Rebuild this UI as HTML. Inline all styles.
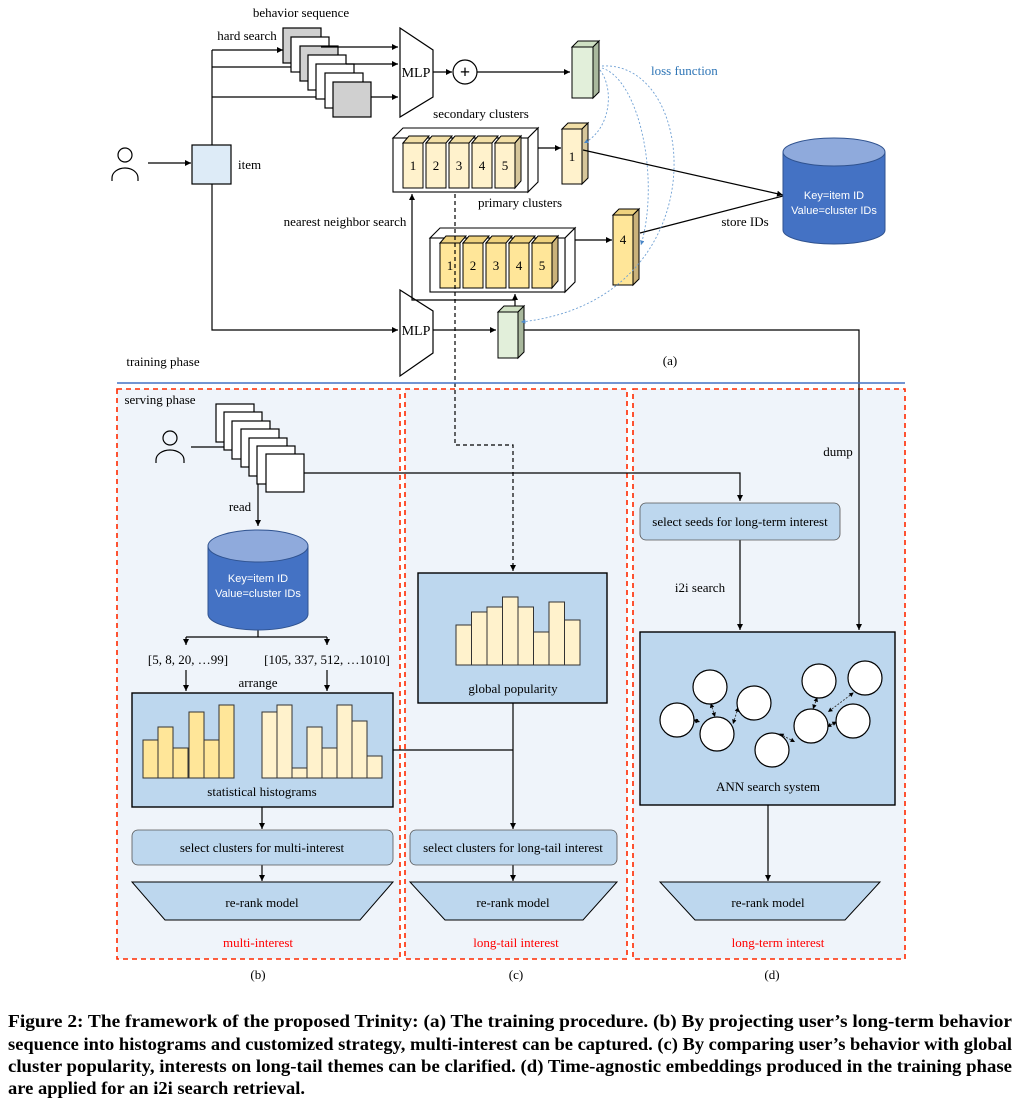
<!DOCTYPE html>
<html><head><meta charset="utf-8"><style>
body{margin:0;background:#fff;}
svg{display:block;font-family:"Liberation Serif",serif;}
.s{font-family:"Liberation Sans",sans-serif;}
</style></head><body>
<svg width="1020" height="1101" viewBox="0 0 1020 1101" xmlns="http://www.w3.org/2000/svg">
<defs>
<marker id="a" markerWidth="6" markerHeight="6" refX="5" refY="3" orient="auto"><path d="M0,0.5 L5,3 L0,5.5z" fill="#000"/></marker>
<marker id="b" markerWidth="6" markerHeight="6" refX="5" refY="3" orient="auto"><path d="M0,0.5 L5,3 L0,5.5z" fill="#4a86c6"/></marker>
<marker id="c" markerWidth="6" markerHeight="6" refX="1" refY="3" orient="auto"><path d="M5,0.5 L0,3 L5,5.5z" fill="#000"/></marker>
</defs>
<!-- bottom panels first -->
<g stroke="#ff2a00" stroke-width="1.6" stroke-dasharray="5,4" fill="#eff4fa">
<rect x="117" y="389" width="283" height="570"/>
<rect x="405" y="389" width="222" height="570"/>
<rect x="633" y="389" width="272" height="570"/>
</g>
<g stroke="#000" stroke-width="1.2" fill="none">
<circle cx="125" cy="155" r="7"/>
<path d="M112,181 v-3 a13,10 0 0 1 26,0 v3"/>
<line x1="148" y1="163" x2="191" y2="163" marker-end="url(#a)"/>
<rect x="192" y="145" width="39" height="39" fill="#ddebf7"/>
<polyline points="212,145 212,50"/>
<line x1="212" y1="50" x2="283" y2="50" marker-end="url(#a)"/>
<line x1="212" y1="67" x2="298" y2="67" marker-end="url(#a)"/>
<line x1="212" y1="97" x2="331" y2="97" marker-end="url(#a)"/>
<polyline points="212,184 212,330 398,330" marker-end="url(#a)"/>
</g>
<g stroke="#000" stroke-width="1.2">
<rect x="283" y="28" width="38" height="35" fill="#d0d0d0"/>
<rect x="291" y="37" width="38" height="35" fill="#fff"/>
<rect x="300" y="46" width="38" height="35" fill="#d0d0d0"/>
<rect x="308" y="55" width="38" height="35" fill="#fff"/>
<rect x="316" y="64" width="38" height="35" fill="#fff"/>
<rect x="325" y="73" width="38" height="35" fill="#fff"/>
<rect x="333" y="82" width="38" height="35" fill="#d0d0d0"/>
</g>
<g stroke="#000" stroke-width="1.2" fill="none">
<line x1="321" y1="47" x2="398" y2="47" marker-end="url(#a)"/>
<line x1="346" y1="64" x2="398" y2="64" marker-end="url(#a)"/>
<line x1="371" y1="97" x2="398" y2="97" marker-end="url(#a)"/>
<polygon points="400,28 433,50 433,97 400,117" fill="#fff"/>
<line x1="433" y1="72" x2="452" y2="72" marker-end="url(#a)"/>
<circle cx="465" cy="72" r="12" fill="#fff"/>
<line x1="477" y1="72" x2="570" y2="72" marker-end="url(#a)"/>
</g>
<text x="301" y="17" font-size="13" text-anchor="middle">behavior sequence</text>
<text x="247" y="40" font-size="13" text-anchor="middle">hard search</text>
<text x="416" y="77" font-size="14" text-anchor="middle">MLP</text>
<text x="465" y="78" font-size="18" font-weight="bold" text-anchor="middle">+</text>
<text x="238" y="169" font-size="13">item</text>
<g stroke="#000" stroke-width="1">
<polygon points="572,47 578,41 599,41 593,47" fill="#cfe0c3"/>
<polygon points="593,47 599,41 599,92 593,98" fill="#a9b89d"/>
<rect x="572" y="47" width="21" height="51" fill="#e2efda"/>
</g>
<text x="651" y="75" font-size="13" fill="#2e75b6">loss function</text>
<text x="481" y="118" font-size="13" text-anchor="middle">secondary clusters</text>
<g stroke="#000" stroke-width="1.1" fill="#fff">
<polygon points="393,138 403,128 538,128 528,138"/>
<polygon points="528,138 538,128 538,182 528,192"/>
<rect x="393" y="138" width="135" height="54"/>
</g>
<g stroke="#000" stroke-width="1">
<polygon points="403,143 409,136 429,136 423,143" fill="#f2dfa7"/>
<polygon points="426,143 432,136 452,136 446,143" fill="#f2dfa7"/>
<polygon points="449,143 455,136 475,136 469,143" fill="#f2dfa7"/>
<polygon points="472,143 478,136 498,136 492,143" fill="#f2dfa7"/>
<polygon points="495,143 501,136 521,136 515,143" fill="#f2dfa7"/>
<polygon points="515,143 521,136 521,181 515,188" fill="#d6c69a"/>
<g fill="#fff2cc"><rect x="403" y="143" width="20" height="45"/><rect x="426" y="143" width="20" height="45"/><rect x="449" y="143" width="20" height="45"/><rect x="472" y="143" width="20" height="45"/><rect x="495" y="143" width="20" height="45"/></g>
</g>
<g font-size="13" text-anchor="middle"><text x="413" y="170">1</text><text x="436" y="170">2</text><text x="459" y="170">3</text><text x="482" y="170">4</text><text x="505" y="170">5</text></g>
<line x1="538" y1="148" x2="561" y2="148" stroke="#000" stroke-width="1.2" marker-end="url(#a)"/>
<g stroke="#000" stroke-width="1">
<polygon points="562,129 568,123 588,123 582,129" fill="#f2dfa7"/>
<polygon points="582,129 588,123 588,178 582,184" fill="#d6c69a"/>
<rect x="562" y="129" width="20" height="55" fill="#fff2cc"/>
</g>
<text x="572" y="161" font-size="13" text-anchor="middle">1</text>
<line x1="583" y1="150" x2="783" y2="195" stroke="#000" stroke-width="1.2" marker-end="url(#a)"/>
<text x="520" y="207" font-size="13" text-anchor="middle">primary clusters</text>
<text x="345" y="226" font-size="13" text-anchor="middle">nearest neighbor search</text>
<g stroke="#000" stroke-width="1.1" fill="#fff">
<polygon points="430,238 440,228 575,228 565,238"/>
<polygon points="565,238 575,228 575,282 565,292"/>
<rect x="430" y="238" width="135" height="54"/>
</g>
<g stroke="#000" stroke-width="1">
<polygon points="440,243 446,236 466,236 460,243" fill="#efd27e"/>
<polygon points="463,243 469,236 489,236 483,243" fill="#efd27e"/>
<polygon points="486,243 492,236 512,236 506,243" fill="#efd27e"/>
<polygon points="509,243 515,236 535,236 529,243" fill="#efd27e"/>
<polygon points="532,243 538,236 558,236 552,243" fill="#efd27e"/>
<polygon points="552,243 558,236 558,281 552,288" fill="#cbb27a"/>
<g fill="#ffe699"><rect x="440" y="243" width="20" height="45"/><rect x="463" y="243" width="20" height="45"/><rect x="486" y="243" width="20" height="45"/><rect x="509" y="243" width="20" height="45"/><rect x="532" y="243" width="20" height="45"/></g>
</g>
<g font-size="13" text-anchor="middle"><text x="450" y="270">1</text><text x="473" y="270">2</text><text x="496" y="270">3</text><text x="519" y="270">4</text><text x="542" y="270">5</text></g>
<line x1="575" y1="240" x2="612" y2="240" stroke="#000" stroke-width="1.2" marker-end="url(#a)"/>
<g stroke="#000" stroke-width="1">
<polygon points="613,215 619,209 639,209 633,215" fill="#efd27e"/>
<polygon points="633,215 639,209 639,279 633,285" fill="#cbb27a"/>
<rect x="613" y="215" width="20" height="70" fill="#ffe699"/>
</g>
<text x="623" y="244" font-size="13" text-anchor="middle">4</text>
<line x1="640" y1="233" x2="783" y2="196" stroke="#000" stroke-width="1.2"/>
<text x="745" y="226" font-size="13" text-anchor="middle">store IDs</text>
<g stroke="#2f528f" stroke-width="1">
<path d="M783,152 v78 a51,14 0 0 0 102,0 v-78" fill="#4472c4"/>
<ellipse cx="834" cy="152" rx="51" ry="14" fill="#8faadc"/>
</g>
<text class="s" x="834" y="199" font-size="11" fill="#fff" text-anchor="middle">Key=item ID</text>
<text class="s" x="834" y="214" font-size="11" fill="#fff" text-anchor="middle">Value=cluster IDs</text>
<g stroke="#000" stroke-width="1.2" fill="none">
<polygon points="400,290 433,311 433,353 400,376" fill="#fff"/>
<line x1="433" y1="330" x2="496" y2="330" marker-end="url(#a)"/>
<polyline points="515,306 515,300 412,300 412,194" marker-end="url(#a)"/>
<line x1="515" y1="300" x2="515" y2="294" marker-end="url(#a)"/>
<polyline points="518,330 859,330 859,630" marker-end="url(#a)"/>
<path d="M455,194 V445 H513 V571" stroke-dasharray="4,3" marker-end="url(#a)"/>
</g>
<text x="416" y="335" font-size="14" text-anchor="middle">MLP</text>
<g stroke="#000" stroke-width="1">
<polygon points="498,312 504,306 524,306 518,312" fill="#cfe0c3"/>
<polygon points="518,312 524,306 524,352 518,358" fill="#a9b89d"/>
<rect x="498" y="312" width="20" height="46" fill="#e2efda"/>
</g>
<g stroke="#6fa0d4" stroke-width="0.9" fill="none" stroke-dasharray="2,2">
<path d="M600,70 C615,90 610,130 584,143" marker-end="url(#b)"/>
<path d="M602,68 C640,80 660,180 641,245" marker-end="url(#b)"/>
<path d="M602,66 C700,60 720,300 521,322" marker-end="url(#b)"/>
</g>
<text x="670" y="365" font-size="13" text-anchor="middle">(a)</text>
<text x="163" y="366" font-size="13" text-anchor="middle">training phase</text>
<line x1="117" y1="383" x2="905" y2="383" stroke="#4472c4" stroke-width="1.5"/>
<text x="160" y="404" font-size="13" text-anchor="middle">serving phase</text>
<g stroke="#000" stroke-width="1.2" fill="none">
<circle cx="170" cy="438" r="7"/>
<path d="M156,463 v-3 a14,10 0 0 1 28,0 v3"/>
<line x1="191" y1="447" x2="239" y2="447" marker-end="url(#a)"/>
</g>
<g stroke="#000" stroke-width="1.2" fill="#fff">
<rect x="216" y="404" width="38" height="38"/><rect x="224" y="412" width="38" height="38"/><rect x="232" y="421" width="38" height="38"/><rect x="241" y="429" width="38" height="38"/><rect x="249" y="438" width="38" height="38"/><rect x="257" y="446" width="38" height="38"/><rect x="266" y="454" width="38" height="38"/>
</g>
<g stroke="#000" stroke-width="1.2" fill="none">
<polyline points="304,473 740,473 740,501" marker-end="url(#a)"/>
<line x1="258" y1="484" x2="258" y2="526" marker-end="url(#a)"/>
<polyline points="258,630 258,637"/>
<line x1="186" y1="637" x2="327" y2="637"/>
<line x1="186" y1="637" x2="186" y2="645" marker-end="url(#a)"/>
<line x1="327" y1="637" x2="327" y2="645" marker-end="url(#a)"/>
<line x1="186" y1="670" x2="186" y2="691" marker-end="url(#a)"/>
<line x1="327" y1="670" x2="327" y2="691" marker-end="url(#a)"/>
</g>
<text x="240" y="511" font-size="13" text-anchor="middle">read</text>
<g stroke="#2f528f" stroke-width="1">
<path d="M208,546 v68 a50,16 0 0 0 100,0 v-68" fill="#4472c4"/>
<ellipse cx="258" cy="546" rx="50" ry="16" fill="#8faadc"/>
</g>
<text class="s" x="258" y="582" font-size="11" fill="#fff" text-anchor="middle">Key=item ID</text>
<text class="s" x="258" y="597" font-size="11" fill="#fff" text-anchor="middle">Value=cluster IDs</text>
<text x="188" y="664" font-size="13" text-anchor="middle">[5, 8, 20, …99]</text>
<text x="327" y="664" font-size="13" text-anchor="middle">[105, 337, 512, …1010]</text>
<text x="258" y="687" font-size="13" text-anchor="middle">arrange</text>
<rect x="132" y="693" width="261" height="114" fill="#bdd7ee" stroke="#000" stroke-width="1.4"/>
<g stroke="#333" stroke-width="1" fill="#ffe699">
<rect x="143" y="740" width="15" height="38"/><rect x="158" y="727" width="15" height="51"/><rect x="173" y="748" width="15" height="30"/><rect x="189" y="712" width="15" height="66"/><rect x="204" y="740" width="15" height="38"/><rect x="219" y="705" width="15" height="73"/>
</g>
<g stroke="#333" stroke-width="1" fill="#fff2cc">
<rect x="262" y="712" width="15" height="66"/><rect x="277" y="705" width="15" height="73"/><rect x="292" y="768" width="15" height="10"/><rect x="307" y="727" width="15" height="51"/><rect x="322" y="748" width="15" height="30"/><rect x="337" y="705" width="15" height="73"/><rect x="352" y="721" width="15" height="57"/><rect x="367" y="756" width="15" height="22"/>
</g>
<text x="262" y="796" font-size="13" text-anchor="middle">statistical histograms</text>
<g stroke="#000" stroke-width="1.2" fill="none">
<line x1="393" y1="750" x2="513" y2="750"/>
<line x1="262" y1="807" x2="262" y2="829" marker-end="url(#a)"/>
<line x1="262" y1="865" x2="262" y2="881" marker-end="url(#a)"/>
<line x1="513" y1="703" x2="513" y2="829" marker-end="url(#a)"/>
<line x1="513" y1="865" x2="513" y2="881" marker-end="url(#a)"/>
<line x1="740" y1="540" x2="740" y2="630" marker-end="url(#a)"/>
<line x1="768" y1="805" x2="768" y2="881" marker-end="url(#a)"/>
</g>
<rect x="132" y="830" width="261" height="35" rx="6" fill="#bdd7ee" stroke="#555" stroke-width="0.8"/>
<text x="262" y="852" font-size="13" text-anchor="middle">select clusters for multi-interest</text>
<polygon points="132,882 393,882 360,920 165,920" fill="#bdd7ee" stroke="#000" stroke-width="1"/>
<text x="262" y="907" font-size="13" text-anchor="middle">re-rank model</text>
<text x="258" y="947" font-size="13" fill="#ff0000" text-anchor="middle">multi-interest</text>
<text x="258" y="979" font-size="13" text-anchor="middle">(b)</text>
<rect x="418" y="573" width="189" height="130" fill="#bdd7ee" stroke="#000" stroke-width="1.4"/>
<g stroke="#333" stroke-width="1" fill="#fff2cc">
<rect x="456" y="625" width="15.5" height="40"/><rect x="471.5" y="612" width="15.5" height="53"/><rect x="487" y="607" width="15.5" height="58"/><rect x="502.5" y="597" width="15.5" height="68"/><rect x="518" y="607" width="15.5" height="58"/><rect x="533.5" y="632" width="15.5" height="33"/><rect x="549" y="602" width="15.5" height="63"/><rect x="564.5" y="620" width="15.5" height="45"/>
</g>
<text x="513" y="693" font-size="13" text-anchor="middle">global popularity</text>
<rect x="410" y="830" width="207" height="35" rx="6" fill="#bdd7ee" stroke="#555" stroke-width="0.8"/>
<text x="513" y="852" font-size="13" text-anchor="middle">select clusters for long-tail interest</text>
<polygon points="410,882 617,882 583,920 445,920" fill="#bdd7ee" stroke="#000" stroke-width="1"/>
<text x="513" y="907" font-size="13" text-anchor="middle">re-rank model</text>
<text x="516" y="947" font-size="13" fill="#ff0000" text-anchor="middle">long-tail interest</text>
<text x="516" y="979" font-size="13" text-anchor="middle">(c)</text>
<text x="838" y="456" font-size="13" text-anchor="middle">dump</text>
<rect x="640" y="503" width="200" height="37" rx="6" fill="#bdd7ee" stroke="#555" stroke-width="0.8"/>
<text x="740" y="526" font-size="13" text-anchor="middle">select seeds for long-term interest</text>
<text x="700" y="592" font-size="13" text-anchor="middle">i2i search</text>
<rect x="640" y="632" width="255" height="173" fill="#bdd7ee" stroke="#000" stroke-width="1.4"/>
<g stroke="#333" stroke-width="0.9" stroke-dasharray="2,1.5" fill="none" marker-start="url(#c)" marker-end="url(#a)">
<line x1="711" y1="704" x2="715" y2="717"/>
<line x1="694" y1="720" x2="700" y2="722"/>
<line x1="738" y1="708" x2="733" y2="724"/>
<line x1="817" y1="698" x2="813" y2="709"/>
<line x1="853" y1="693" x2="828" y2="712"/>
<line x1="836" y1="722" x2="827" y2="727"/>
<line x1="780" y1="734" x2="795" y2="742"/>
</g>
<g stroke="#000" stroke-width="1.2" fill="#fff">
<circle cx="710" cy="687" r="17"/><circle cx="754" cy="703" r="17"/><circle cx="677" cy="720" r="17"/><circle cx="717" cy="734" r="17"/><circle cx="819" cy="681" r="17"/><circle cx="865" cy="678" r="17"/><circle cx="811" cy="726" r="17"/><circle cx="853" cy="721" r="17"/><circle cx="772" cy="750" r="17"/>
</g>
<text x="768" y="791" font-size="13" text-anchor="middle">ANN search system</text>
<polygon points="660,882 880,882 845,920 695,920" fill="#bdd7ee" stroke="#000" stroke-width="1"/>
<text x="768" y="907" font-size="13" text-anchor="middle">re-rank model</text>
<text x="778" y="947" font-size="13" fill="#ff0000" text-anchor="middle">long-term interest</text>
<text x="772" y="979" font-size="13" text-anchor="middle">(d)</text>
<g font-size="18" font-weight="bold">
<text x="8" y="1027" textLength="1004" lengthAdjust="spacingAndGlyphs">Figure 2: The framework of the proposed Trinity: (a) The training procedure. (b) By projecting user’s long-term behavior</text>
<text x="8" y="1050" textLength="1004" lengthAdjust="spacingAndGlyphs">sequence into histograms and customized strategy, multi-interest can be captured. (c) By comparing user’s behavior with global</text>
<text x="8" y="1072" textLength="1004" lengthAdjust="spacingAndGlyphs">cluster popularity, interests on long-tail themes can be clarified. (d) Time-agnostic embeddings produced in the training phase</text>
<text x="8" y="1094" textLength="297" lengthAdjust="spacingAndGlyphs">are applied for an i2i search retrieval.</text>
</g>
</svg>
</body></html>
